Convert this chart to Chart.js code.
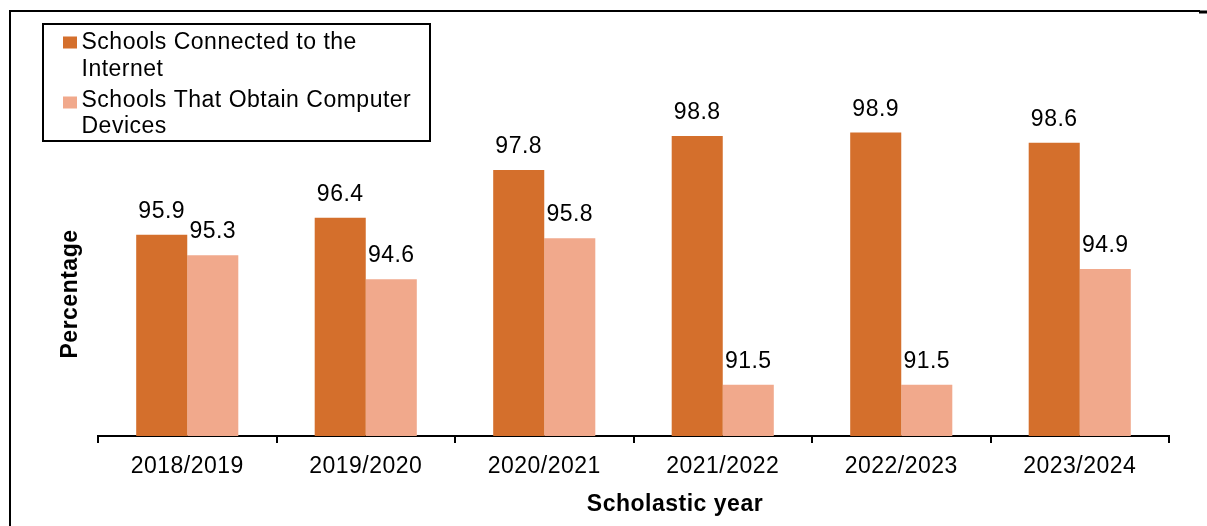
<!DOCTYPE html>
<html>
<head>
<meta charset="utf-8">
<style>
  html, body { margin: 0; padding: 0; background: #fff; }
  #wrap { position: relative; width: 1207px; height: 526px; }
  canvas { display: block; }
</style>
<script src="https://cdn.jsdelivr.net/npm/chart.js@4/dist/chart.umd.min.js"></script>
</head>
<body>
<div id="wrap"><canvas id="c" width="1207" height="526"></canvas></div>
<script>
const categories = ["2018/2019", "2019/2020", "2020/2021", "2021/2022", "2022/2023", "2023/2024"];
const connectedInternet = [95.9, 96.4, 97.8, 98.8, 98.9, 98.6];
const obtainDevices = [95.3, 94.6, 95.8, 91.5, 91.5, 94.9];
const seriesNames = ["Schools Connected to the Internet", "Schools That Obtain Computer Devices"];
const legendLines = [["Schools Connected to the", "Internet"], ["Schools That Obtain Computer", "Devices"]];
const seriesColors = ["#D46F2C", "#F1A98C"];
const xTitle = "Scholastic year";
const yTitle = "Percentage";
const yMin = 90, yMax = 100;

const FONT = '"Liberation Sans", Arial, sans-serif';
const SPACING = '0.5px';

const spacingPlugin = {
  id: 'spacing',
  beforeDraw(chart) { chart.ctx.letterSpacing = SPACING; }
};

const labelsPlugin = {
  id: 'valueLabels',
  afterDatasetsDraw(chart) {
    const ctx = chart.ctx;
    ctx.save();
    ctx.letterSpacing = SPACING;
    ctx.font = '23px ' + FONT;
    ctx.fillStyle = '#000';
    ctx.textAlign = 'center';
    ctx.textBaseline = 'alphabetic';
    chart.data.datasets.forEach((ds, i) => {
      chart.getDatasetMeta(i).data.forEach((bar, j) => {
        ctx.fillText(ds.data[j].toFixed(1), bar.x, bar.y - 17);
      });
    });
    ctx.restore();
  }
};

const decorPlugin = {
  id: 'decor',
  afterDraw(chart) {
    const ctx = chart.ctx;
    ctx.save();
    ctx.letterSpacing = SPACING;
    // frame
    ctx.strokeStyle = '#000';
    ctx.lineWidth = 2;
    ctx.beginPath();
    ctx.moveTo(10, 526); ctx.lineTo(10, 11); ctx.lineTo(1200, 11);
    ctx.stroke();
    ctx.lineWidth = 3;
    ctx.beginPath(); ctx.moveTo(1199, 12); ctx.lineTo(1207, 12); ctx.stroke();
    // axis titles
    ctx.fillStyle = '#000';
    ctx.font = 'bold 23px ' + FONT;
    ctx.textAlign = 'center';
    ctx.textBaseline = 'alphabetic';
    ctx.fillText(xTitle, 675, 511);
    ctx.save();
    ctx.translate(77, 294);
    ctx.rotate(-Math.PI / 2);
    ctx.fillText(yTitle, 0, 0);
    ctx.restore();
    // legend
    ctx.lineWidth = 2;
    ctx.strokeStyle = '#000';
    ctx.strokeRect(43, 24, 387, 117);
    ctx.font = '23px ' + FONT;
    ctx.textAlign = 'left';
    const swatchTops = [36.5, 96.5];
    const baselines = [[48.5, 75.5], [106.5, 133]];
    legendLines.forEach((lines, i) => {
      ctx.fillStyle = seriesColors[i];
      ctx.fillRect(63, swatchTops[i], 14, 12);
      ctx.fillStyle = '#000';
      lines.forEach((t, k) => ctx.fillText(t, 81.5, baselines[i][k]));
    });
    ctx.restore();
  }
};

new Chart(document.getElementById('c'), {
  type: 'bar',
  data: {
    labels: categories,
    datasets: [
      { label: seriesNames[0], data: connectedInternet, backgroundColor: seriesColors[0], borderWidth: 0 },
      { label: seriesNames[1], data: obtainDevices, backgroundColor: seriesColors[1], borderWidth: 0 }
    ]
  },
  options: {
    responsive: false,
    animation: false,
    devicePixelRatio: 1,
    layout: { padding: { left: 98, right: 38, top: 95, bottom: 0 } },
    datasets: { bar: { barPercentage: 1, categoryPercentage: 0.572 } },
    plugins: { legend: { display: false }, tooltip: { enabled: false } },
    scales: {
      x: {
        afterFit(scale) { scale.height = 90; },
        grid: { offset: true, drawOnChartArea: false, drawTicks: true, tickLength: 7, color: '#000', lineWidth: 2 },
        border: { display: true, color: '#000', width: 2 },
        ticks: { color: '#000', font: { family: FONT, size: 23 }, padding: 10, maxRotation: 0 }
      },
      y: {
        display: false,
        min: yMin,
        max: yMax
      }
    }
  },
  plugins: [spacingPlugin, labelsPlugin, decorPlugin]
});
</script>
</body>
</html>
